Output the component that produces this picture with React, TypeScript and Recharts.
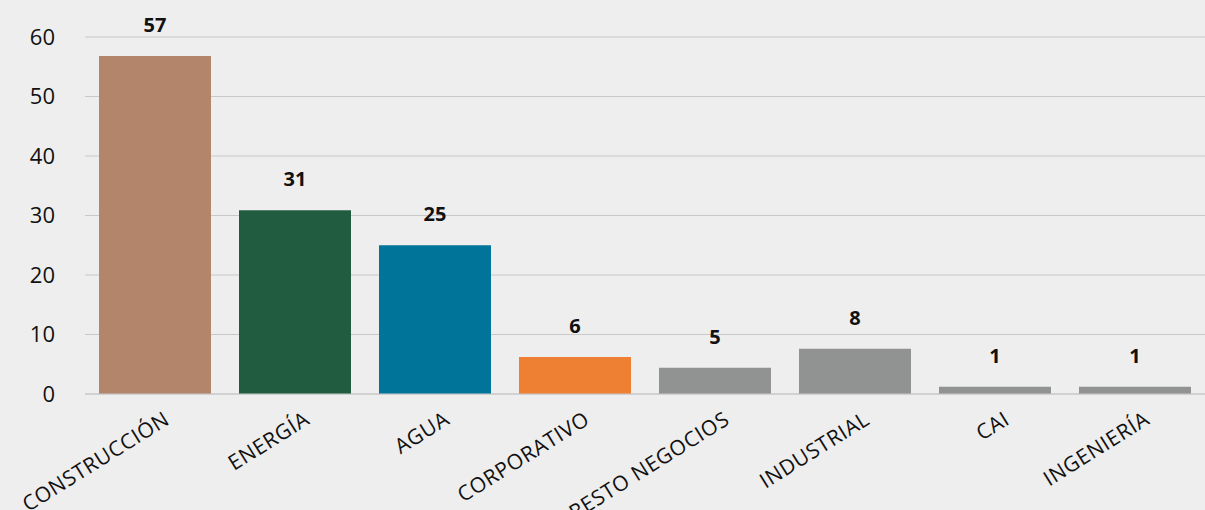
import { BarChart, Bar, XAxis, YAxis, CartesianGrid, Cell, LabelList } from "recharts";

const categories = [
  "CONSTRUCCIÓN",
  "ENERGÍA",
  "AGUA",
  "CORPORATIVO",
  "RESTO NEGOCIOS",
  "INDUSTRIAL",
  "CAI",
  "INGENIERÍA",
];
const values = [56.8, 30.9, 25.0, 6.2, 4.4, 7.6, 1.2, 1.2];
const valueLabels = ["57", "31", "25", "6", "5", "8", "1", "1"];
const barColors = [
  "#b3856a",
  "#225c40",
  "#007499",
  "#ee8033",
  "#909391",
  "#909391",
  "#909391",
  "#909391",
];
const yTicks = [0, 10, 20, 30, 40, 50, 60];

const data = categories.map((name, i) => ({
  name,
  value: values[i],
  label: valueLabels[i],
}));

const FONT = "'Open Sans', 'Noto Sans', sans-serif";

// etiquetas del eje X giradas
function RotatedTick(props: any) {
  const { x, y, payload } = props;
  const ax = x + 16;
  const ay = y + 21;
  return (
    <text
      x={ax}
      y={ay}
      textAnchor="end"
      transform={`rotate(-32, ${ax}, ${ay})`}
      fontFamily={FONT}
      fontSize={21}
      letterSpacing={0.6}
      fill="#111"
    >
      {payload.value}
    </text>
  );
}

export default function App() {
  return (
    <div
      style={{
        position: "absolute",
        left: 0,
        top: 0,
        width: 1205,
        height: 510,
        background: "#eeeeee",
        overflow: "hidden",
      }}
    >
      <BarChart
        width={1205}
        height={510}
        data={data}
        margin={{ top: 37, right: -5, bottom: 0, left: 0 }}
        barSize={112}
      >
        <CartesianGrid vertical={false} stroke="#c8c8c8" strokeWidth={1.2} />
        <XAxis
          dataKey="name"
          axisLine={{ stroke: "#c8c8c8", strokeWidth: 1.2 }}
          tickLine={false}
          interval={0}
          padding={{ left: 0, right: 5 }}
          tick={<RotatedTick />}
          height={116}
        />
        <YAxis
          domain={[0, 60]}
          ticks={yTicks}
          width={85}
          axisLine={false}
          tickLine={false}
          tickSize={0}
          tickMargin={30}
          tick={{ fontFamily: FONT, fontSize: 22, fill: "#111" }}
        />
        <Bar dataKey="value" isAnimationActive={false}>
          {data.map((d, i) => (
            <Cell key={d.name} fill={barColors[i]} />
          ))}
          <LabelList
            dataKey="label"
            position="top"
            offset={24}
            style={{ fontFamily: FONT, fontSize: 20, fontWeight: 700, fill: "#111" }}
          />
        </Bar>
      </BarChart>
    </div>
  );
}
